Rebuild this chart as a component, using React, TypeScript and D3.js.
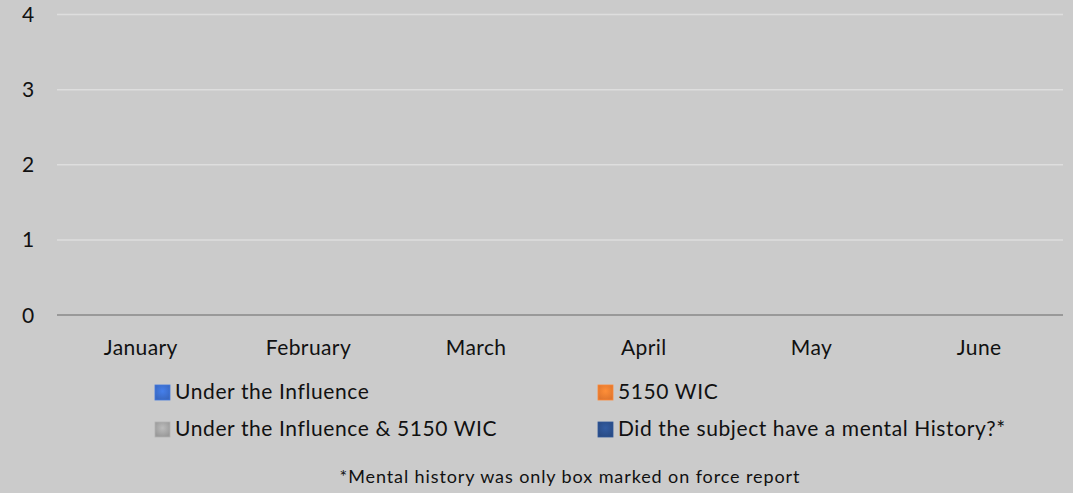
import React, { useEffect, useRef } from "react";
import * as d3 from "d3";

const categories = ["January", "February", "March", "April", "May", "June"];
const underInfluence = [0, 0, 0, 0, 0, 0];
const wic5150 = [0, 0, 0, 0, 0, 0];
const underAndWic = [0, 0, 0, 0, 0, 0];
const mentalHistory = [0, 0, 0, 0, 0, 0];
const yTicks = [0, 1, 2, 3, 4];
const seriesNames = [
  "Under the Influence",
  "5150 WIC",
  "Under the Influence & 5150 WIC",
  "Did the subject have a mental History?*",
];
const seriesColors = ["#3b6cc8", "#e87a30", "#a0a0a0", "#2b4e8a"];
const footnote = "*Mental history was only box marked on force report";

const W = 1073;
const H = 493;
const FONT = "Lato, 'Open Sans', sans-serif";

export default function App() {
  const ref = useRef<SVGSVGElement | null>(null);

  useEffect(() => {
    const svg = d3.select(ref.current);
    svg.selectAll("*").remove();

    const left = 57, right = 1063, top = 14.5, bottom = 315;
    const x = d3.scaleBand<string>().domain(categories).range([left, right]).paddingInner(0.3).paddingOuter(0.15);
    const xc = d3.scaleBand<string>().domain(categories).range([left, right]);
    const y = d3.scaleLinear().domain([0, 4]).range([bottom, top]);

    svg.append("rect").attr("width", W).attr("height", H).attr("fill", "#cbcbcb");

    const defs = svg.append("defs");
    seriesColors.forEach((c, i) => {
      const g = defs.append("radialGradient").attr("id", "mk" + i).attr("cy", "40%").attr("r", "60%");
      g.append("stop").attr("offset", "0%").attr("stop-color", d3.color(c)!.brighter(0.45).toString());
      g.append("stop").attr("offset", "100%").attr("stop-color", d3.color(c)!.darker(0.1).toString());
    });

    // gridlines
    svg.append("g")
      .selectAll("line")
      .data(yTicks.filter((t) => t !== 0))
      .join("line")
      .attr("x1", left).attr("x2", right)
      .attr("y1", (d) => y(d)).attr("y2", (d) => y(d))
      .attr("stroke", "#dedede").attr("stroke-width", 1.5);

    // bars (all zero)
    const allSeries = [underInfluence, wic5150, underAndWic, mentalHistory];
    const inner = d3.scaleBand<number>().domain([0, 1, 2, 3]).range([0, x.bandwidth()]);
    allSeries.forEach((vals, si) => {
      svg.append("g")
        .selectAll("rect")
        .data(vals)
        .join("rect")
        .attr("x", (_, i) => (x(categories[i]) as number) + (inner(si) as number))
        .attr("width", inner.bandwidth())
        .attr("y", (d) => y(d))
        .attr("height", (d) => y(0) - y(d))
        .attr("fill", `url(#mk${si})`);
    });

    // axis line
    svg.append("line")
      .attr("x1", left).attr("x2", right)
      .attr("y1", y(0)).attr("y2", y(0))
      .attr("stroke", "#898989").attr("stroke-width", 1.5);

    // y labels
    svg.append("g")
      .selectAll("text")
      .data(yTicks)
      .join("text")
      .attr("x", 28)
      .attr("y", (d) => y(d) + 7.5)
      .attr("text-anchor", "middle")
      .attr("font-family", FONT)
      .attr("font-size", 21)
      .attr("fill", "#111")
      .text((d) => String(d));

    // x labels
    svg.append("g")
      .selectAll("text")
      .data(categories)
      .join("text")
      .attr("x", (d) => (xc(d) as number) + xc.bandwidth() / 2)
      .attr("y", 355)
      .attr("text-anchor", "middle")
      .attr("font-family", FONT)
      .attr("font-size", 21)
      .attr("letter-spacing", 0.4)
      .attr("fill", "#111")
      .text((d) => d);

    // legend
    const legendPos = [
      { mx: 155, ty: 399 },
      { mx: 598, ty: 399 },
      { mx: 155, ty: 436 },
      { mx: 598, ty: 436 },
    ];
    const lg = svg.append("g");
    seriesNames.forEach((name, i) => {
      const p = legendPos[i];
      lg.append("rect")
        .attr("x", p.mx).attr("y", p.ty - 14)
        .attr("width", 15).attr("height", 15)
        .attr("fill", `url(#mk${i})`)
        .attr("stroke", d3.color(seriesColors[i])!.brighter(0.3).toString())
        .attr("stroke-width", 0.8);
      lg.append("text")
        .attr("x", p.mx + 20).attr("y", p.ty)
        .attr("font-family", FONT)
        .attr("font-size", 21)
        .attr("letter-spacing", 0.6)
        .attr("fill", "#111")
        .text(name);
    });

    svg.append("text")
      .attr("x", 570).attr("y", 483)
      .attr("text-anchor", "middle")
      .attr("font-family", FONT)
      .attr("font-size", 18)
      .attr("letter-spacing", 0.9)
      .attr("fill", "#111")
      .text(footnote);
  }, []);

  return (
    <svg
      ref={ref}
      width={W}
      height={H}
      style={{ position: "absolute", left: 0, top: 0, display: "block" }}
    />
  );
}
